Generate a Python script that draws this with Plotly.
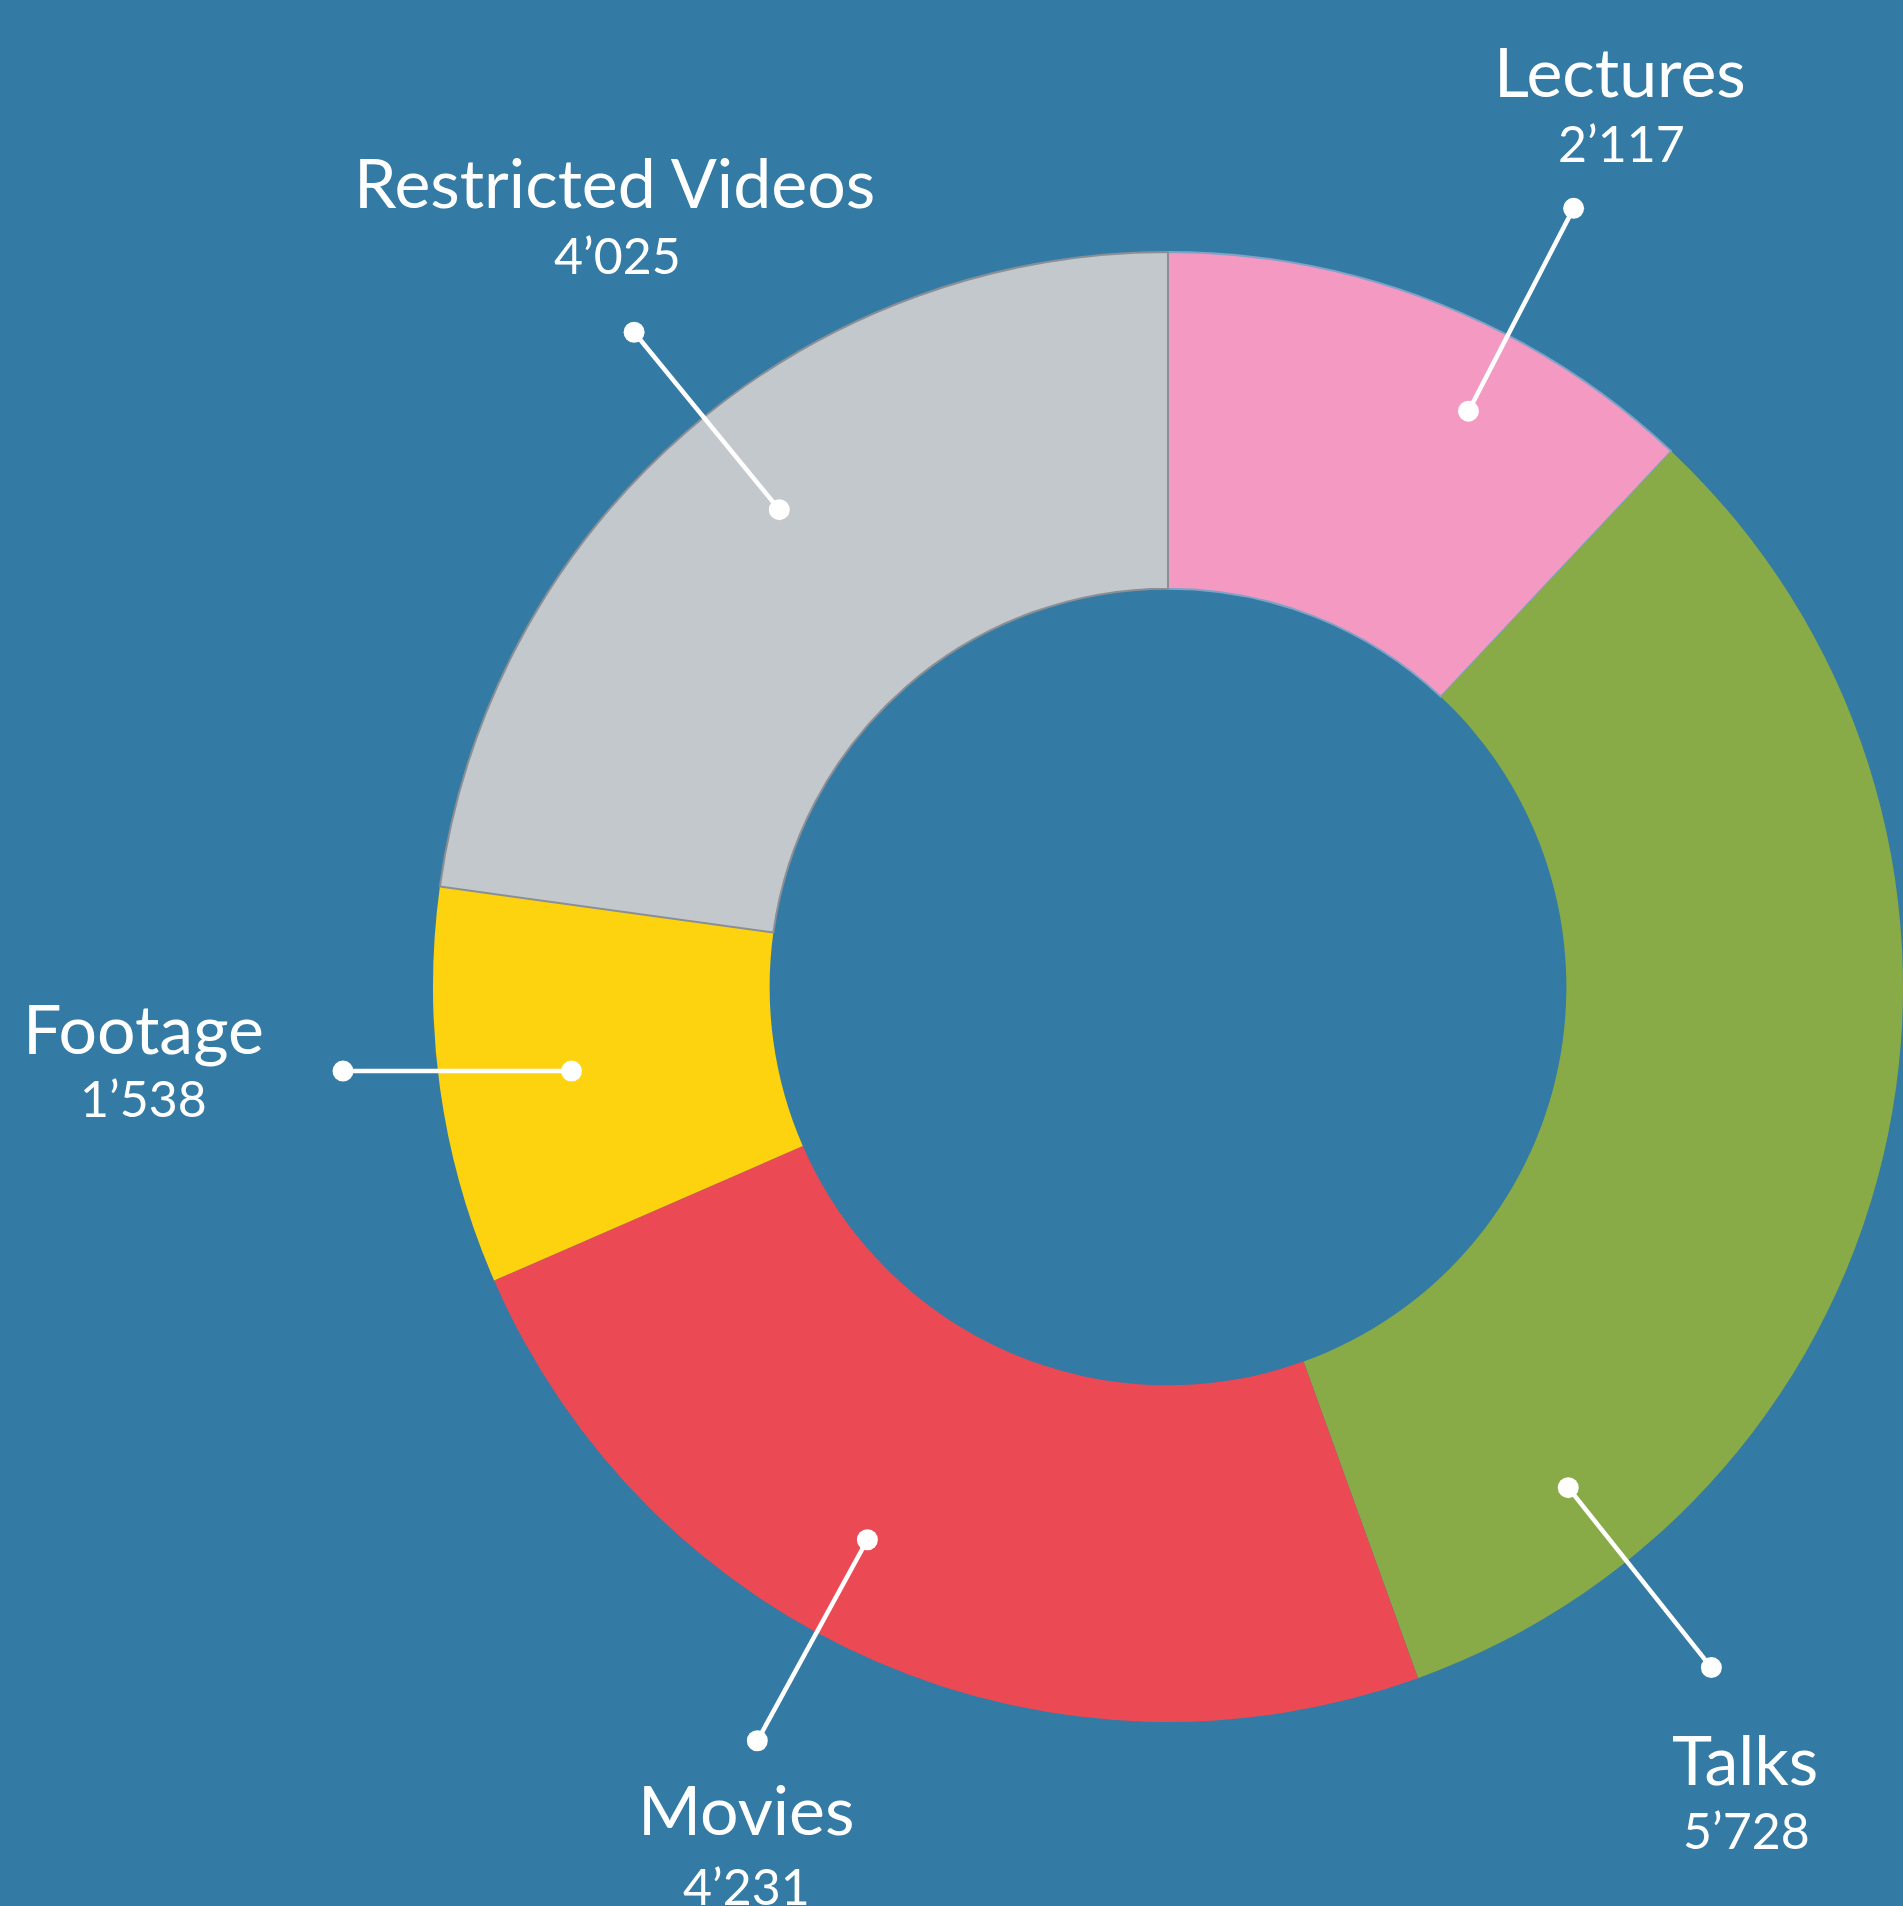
import math
import plotly.graph_objects as go

# ---- data ----
categories = ["Lectures", "Talks", "Movies", "Footage", "Restricted Videos"]
values = [2117, 5728, 4231, 1538, 4025]
value_labels = ["2’117", "5’728", "4’231", "1’538", "4’025"]

# ---- style / layout config ----
colors = ["#F49AC2", "#88AA47", "#EB4A55", "#FDD20F", "#C2C8CB"]
outline_colors = ["#7FA3C6", "rgba(0,0,0,0)", "rgba(0,0,0,0)", "rgba(0,0,0,0)", "#8A8F96"]
outline_widths = [2, 0, 0, 0, 2]
BG = "#337AA4"
W, H = 1903, 1906
CX, CY, R = 1170, 987, 737          # pie centre / radius in pixels
HOLE = 0.542

# leader line geometry: angle (deg, clockwise from 12 o'clock), inner and outer radius fraction
leader_angle = [27.4, 141.5, 208.7, 262.0, -39.3]
leader_rin = [0.88, 0.868, 0.855, 0.82, 0.837]
leader_rout = [1.19, 1.18, 1.166, None, 1.148]
footage_out_x = 343
# text offsets from the outer dot (px): name, value
name_off = [(46, -138), (34, 91), (-11, 68), (-200, -44), (-20, -151)]
val_off = [(48, -65), (35, 162), (-11, 145), (-200, 27), (-17, -77)]

FONT = "Lato"


def px(x):
    return x / W


def py(y):
    return 1 - y / H


fig = go.Figure()
fig.add_trace(go.Pie(
    labels=categories, values=values, sort=False, direction="clockwise", rotation=0,
    hole=HOLE, textinfo="none", showlegend=False,
    marker=dict(colors=colors, line=dict(color=outline_colors, width=outline_widths)),
    domain=dict(x=[px(CX - R), min(1.0, px(CX + R))], y=[py(CY + R), py(CY - R)]),
))

shapes, annotations = [], []
DOT = 10.5
for i, cat in enumerate(categories):
    a = math.radians(leader_angle[i])
    x_in = CX + R * leader_rin[i] * math.sin(a)
    y_in = CY - R * leader_rin[i] * math.cos(a)
    if leader_rout[i] is None:
        x_out, y_out = footage_out_x, y_in
    else:
        x_out = CX + R * leader_rout[i] * math.sin(a)
        y_out = CY - R * leader_rout[i] * math.cos(a)
    shapes.append(dict(type="line", xref="paper", yref="paper",
                       x0=px(x_in), y0=py(y_in), x1=px(x_out), y1=py(y_out),
                       line=dict(color="white", width=4.5)))
    for (x, y) in [(x_in, y_in), (x_out, y_out)]:
        shapes.append(dict(type="circle", xref="paper", yref="paper",
                           x0=px(x - DOT), x1=px(x + DOT), y0=py(y + DOT), y1=py(y - DOT),
                           fillcolor="white", line=dict(width=0)))
    annotations.append(dict(xref="paper", yref="paper", x=px(x_out + name_off[i][0]),
                            y=py(y_out + name_off[i][1]), text=cat, showarrow=False,
                            xanchor="center", yanchor="middle",
                            font=dict(family=FONT, size=68, color="white")))
    annotations.append(dict(xref="paper", yref="paper", x=px(x_out + val_off[i][0]),
                            y=py(y_out + val_off[i][1]), text=value_labels[i], showarrow=False,
                            xanchor="center", yanchor="middle",
                            font=dict(family=FONT, size=50, color="white")))

fig.update_layout(width=W, height=H, margin=dict(l=0, r=0, t=0, b=0),
                  paper_bgcolor=BG, plot_bgcolor=BG, shapes=shapes, annotations=annotations)
fig.write_html("out.html", config={"displayModeBar": False},
               post_script="document.body.style.margin='0';document.body.style.background='%s';"
                           "document.body.style.overflow='hidden';" % BG)
